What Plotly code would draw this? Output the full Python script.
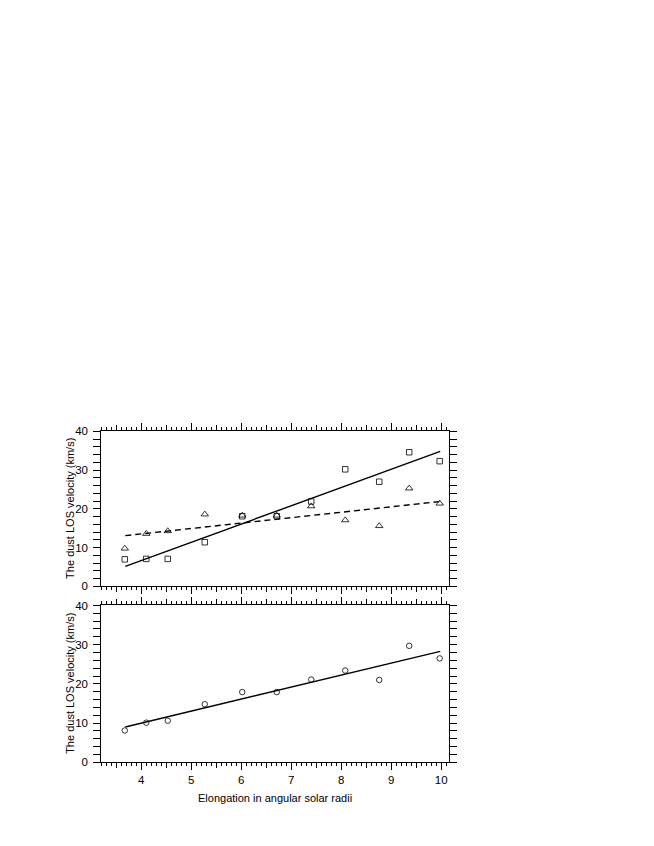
import plotly.graph_objects as go
import numpy as np

# elongation (angular solar radii)
elong = [3.67, 4.10, 4.53, 5.27, 6.02, 6.71, 7.40, 8.08, 8.76, 9.36, 9.97]

# top panel
v_square = [7.0, 7.1, 7.1, 11.4, 18.1, 18.1, 21.9, 30.2, 27.0, 34.6, 32.3]
v_triangle = [9.8, 13.6, 14.3, 18.6, 18.3, 18.3, 20.7, 17.1, 15.6, 25.3, 21.4]
fit_x = [3.68, 9.98]
fit_square = [5.2, 34.8]
fit_triangle = [13.1, 21.9]

# bottom panel
v_circle = [8.1, 10.1, 10.6, 14.8, 17.9, 17.9, 21.1, 23.4, 21.0, 29.7, 26.5]
fit_circle = [9.0, 28.3]

W, H = 654, 846
x0, x1 = 93.3, 440.7
top_y = (423.3, 580.7)
bot_y = (600.0, 759.0)

def ydom(a, b):
    return [1 - b / H, 1 - a / H]

xdom = [x0 / W, x1 / W]
font = dict(family="Liberation Sans, Arial, sans-serif", color="black")
mk = dict(color="black", width=0.8)

fig = go.Figure()
fig.add_trace(go.Scatter(x=elong, y=v_square, mode="markers", xaxis="x", yaxis="y",
                         marker=dict(symbol="square-open", size=5.5, color="black", line=mk)))
fig.add_trace(go.Scatter(x=elong, y=v_triangle, mode="markers", xaxis="x", yaxis="y",
                         marker=dict(symbol="triangle-up-open", size=6.5, color="black", line=mk)))
fig.add_trace(go.Scatter(x=fit_x, y=fit_square, mode="lines", xaxis="x", yaxis="y",
                         line=dict(color="black", width=1.4)))
fig.add_trace(go.Scatter(x=fit_x, y=fit_triangle, mode="lines", xaxis="x", yaxis="y",
                         line=dict(color="black", width=1.4, dash="6px,4px")))
fig.add_trace(go.Scatter(x=elong, y=v_circle, mode="markers", xaxis="x2", yaxis="y2",
                         marker=dict(symbol="circle-open", size=5.5, color="black", line=mk)))
fig.add_trace(go.Scatter(x=fit_x, y=fit_circle, mode="lines", xaxis="x2", yaxis="y2",
                         line=dict(color="black", width=1.4)))
# empty traces so the overlay tick axes get drawn
fig.add_trace(go.Scatter(x=[], y=[], xaxis="x3", yaxis="y"))
fig.add_trace(go.Scatter(x=[], y=[], xaxis="x4", yaxis="y2"))

xr = [3.2, 10.15]
half = [v for v in np.arange(3.5, 10.1, 1.0)]

xbase = dict(range=xr, domain=xdom, showgrid=False, zeroline=False, showline=True,
             linecolor="black", linewidth=1, mirror="allticks", ticks="outside",
             ticklen=7, tickwidth=1, tickcolor="black", dtick=1, tick0=0,
             minor=dict(dtick=0.1, tick0=0, ticks="outside", ticklen=3, tickwidth=1,
                        tickcolor="black", showgrid=False),
             tickfont=dict(size=11.5, **font))
xmid = dict(range=xr, domain=xdom, showgrid=False, zeroline=False, showline=False,
            mirror="ticks", ticks="outside", ticklen=5, tickwidth=1, tickcolor="black",
            tickmode="array", tickvals=half, showticklabels=False)
ybase = dict(range=[0, 40], showgrid=False, zeroline=False, showline=True,
             linecolor="black", linewidth=1, mirror="allticks", ticks="outside",
             ticklen=7, tickwidth=1, tickcolor="black", dtick=10, tick0=0,
             minor=dict(dtick=2, tick0=0, ticks="outside", ticklen=4, tickwidth=1,
                        tickcolor="black", showgrid=False),
             tickfont=dict(size=11.5, **font), ticklabelstandoff=3)

fig.update_layout(
    width=W, height=H, margin=dict(l=0, r=0, t=0, b=0),
    paper_bgcolor="white", plot_bgcolor="white", showlegend=False,
    xaxis=dict(xbase, anchor="y", showticklabels=False),
    yaxis=dict(ybase, domain=ydom(*top_y), anchor="x"),
    xaxis2=dict(xbase, anchor="y2"),
    yaxis2=dict(ybase, domain=ydom(*bot_y), anchor="x2"),
    xaxis3=dict(xmid, anchor="y", overlaying="x"),
    xaxis4=dict(xmid, anchor="y2", overlaying="x2"),
)

ytitle = "The dust LOS velocity (km/s)"
for (a, b) in (top_y, bot_y):
    fig.add_annotation(text=ytitle, xref="paper", yref="paper", x=62 / W,
                       y=1 - (a + b) / 2 / H, textangle=-90, showarrow=False,
                       font=dict(size=11, **font), xanchor="center", yanchor="middle")
fig.add_annotation(text="Elongation in angular solar radii", xref="paper", yref="paper",
                   x=(x0 + x1) / 2 / W, y=1 - 795 / H, showarrow=False,
                   font=dict(size=11, **font), xanchor="center", yanchor="middle")

fig.write_html("out.html")
